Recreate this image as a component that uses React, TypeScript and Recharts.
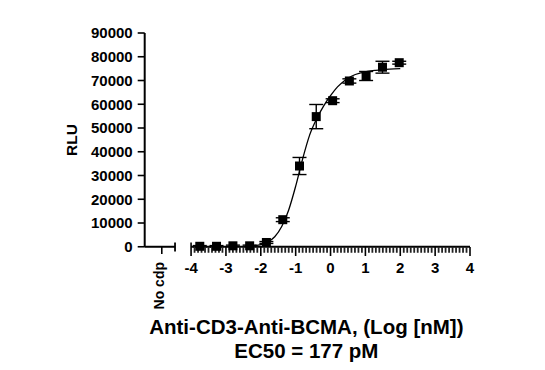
import React from 'react';
import { ComposedChart, XAxis, YAxis, Scatter, Line, ErrorBar, ReferenceLine, Label } from 'recharts';

// Measured points: log concentration (nM), mean RLU, error
const logConc = [-3.75, -3.27, -2.8, -2.32, -1.84, -1.37, -0.89, -0.41, 0.06, 0.54, 1.02, 1.49, 1.97];
const rlu = [200, 200, 400, 400, 1800, 11400, 34000, 54800, 61500, 69800, 71900, 75600, 77500];
const rluErr = [300, 300, 300, 300, 400, 800, 3600, 5100, 800, 900, 1900, 2500, 600];

// Fitted curve
const fitX = [-2.4, -2.2, -2.0, -1.8, -1.6, -1.4, -1.2, -1.0, -0.8, -0.6, -0.4, -0.2, 0.0, 0.2, 0.4, 0.6, 0.9, 1.3, 1.7, 2.0];
const fitY = [150, 400, 900, 2000, 4200, 8500, 15500, 25500, 37000, 47000, 53800, 59200, 63600, 67300, 69900, 71800, 73300, 74300, 74800, 75000];

const yTicks = [0, 10000, 20000, 30000, 40000, 50000, 60000, 70000, 80000, 90000];
const xMajorTicks = [-4, -3, -2, -1, 0, 1, 2, 3, 4];
const noCdpLabel = 'No cdp';
const NO_CDP_POS = -4.84;
const BREAK_END = -4.46;
const X_MIN = -5.33;
const X_MAX = 4;

const points = logConc.map((x, i) => ({ x, y: rlu[i], err: rluErr[i] }));
const curve = fitX.map((x, i) => ({ x, y: fitY[i] }));

// minor tick positions (every 0.1 log unit) on the main axis segment
const minorTicks: number[] = [];
for (let k = -40; k <= 40; k++) {
  if (k % 10 !== 0) minorTicks.push(k / 10);
}
const minorTickMarks = minorTicks.map((x) => ({ x, y: 0 }));
const allXTicks = [NO_CDP_POS, BREAK_END, ...xMajorTicks];

const FONT = '"Liberation Sans", Arial, sans-serif';

const XTick = (props: any) => {
  const { x, y, payload } = props;
  const v = payload.value as number;
  if (Math.abs(v - NO_CDP_POS) < 1e-6) {
    const tx = x + 2;
    const ty = y + 15;
    return (
      <g>
        <path d={`M${x},${y} L${x},${y + 7}`} stroke="#000" strokeWidth={1.6} />
        <text x={tx} y={ty} transform={`rotate(-90 ${tx} ${ty})`} textAnchor="end" fontFamily={FONT} fontWeight="bold" fontSize={14} fill="#000">
          {noCdpLabel}
        </text>
      </g>
    );
  }
  if (Math.abs(v - BREAK_END) < 1e-6) {
    return <path d={`M${x},${y - 4.5} L${x},${y + 4.5}`} stroke="#000" strokeWidth={1.8} />;
  }
  return (
    <g>
      <path d={`M${x},${v === -4 ? y - 4.5 : y} L${x},${y + 9}`} stroke="#000" strokeWidth={1.6} />
      <text x={x} y={y + 26} textAnchor="middle" fontFamily={FONT} fontWeight="bold" fontSize={15} fill="#000">
        {String(Math.round(v))}
      </text>
    </g>
  );
};

const square = (p: any) => <rect x={p.cx - 4.5} y={p.cy - 4.5} width={9} height={9} fill="#000" />;
const minorMark = (p: any) => (
  <path d={`M${p.cx},${p.cy} L${p.cx},${p.cy + 6}`} stroke="#222" strokeWidth={1.8} fill="none" />
);

export default function App() {
  return (
    <div>
      <ComposedChart width={529} height={354} margin={{ top: 25, right: 67, left: 20, bottom: 5 }}>
        <XAxis
          type="number"
          dataKey="x"
          domain={[X_MIN, X_MAX]}
          ticks={allXTicks}
          interval={0}
          tick={<XTick />}
          tickLine={false}
          axisLine={false}
          tickSize={0}
          tickMargin={0}
          height={110}
        >
          <Label
            content={(lp: any) => {
              const vb = lp.viewBox;
              const cx = vb.x + vb.width / 2 - 1;
              return (
                <g>
                  <text x={cx} y={vb.y + 87} textAnchor="middle" fontFamily={FONT} fontWeight="bold" fontSize={20.5} fill="#000">
                    Anti-CD3-Anti-BCMA, (Log [nM])
                  </text>
                  <text x={cx} y={vb.y + 111} textAnchor="middle" fontFamily={FONT} fontWeight="bold" fontSize={20.5} fill="#000">
                    EC50 = 177 pM
                  </text>
                </g>
              );
            }}
          />
        </XAxis>
        <YAxis
          type="number"
          domain={[0, 90000]}
          ticks={yTicks}
          interval={0}
          width={116.7}
          tickSize={7}
          tickMargin={5}
          axisLine={{ stroke: '#000', strokeWidth: 2 }}
          tickLine={{ stroke: '#000', strokeWidth: 1.6 }}
          tick={{ fontFamily: FONT, fontWeight: 'bold', fontSize: 15, fill: '#000' }}
        >
          <Label
            content={(lp: any) => {
              const vb = lp.viewBox;
              const tx = 68.7;
              const ty = vb.y + vb.height / 2;
              return (
                <text x={tx} y={ty} transform={`rotate(-90 ${tx} ${ty})`} textAnchor="middle" fontFamily={FONT} fontWeight="bold" fontSize={15.5} fill="#000">
                  RLU
                </text>
              );
            }}
          />
        </YAxis>
        <ReferenceLine segment={[{ x: X_MIN, y: 0 }, { x: BREAK_END, y: 0 }]} stroke="#000" strokeWidth={2} ifOverflow="visible" />
        <ReferenceLine segment={[{ x: -4, y: 0 }, { x: X_MAX, y: 0 }]} stroke="#000" strokeWidth={2} ifOverflow="visible" />
        <Scatter name="minor" data={minorTickMarks} dataKey="y" shape={minorMark} isAnimationActive={false} />
        <Line data={curve} dataKey="y" type="monotone" dot={false} stroke="#000" strokeWidth={1.3} isAnimationActive={false} />
        <Scatter name="points" data={points} dataKey="y" shape={square} isAnimationActive={false}>
          <ErrorBar dataKey="err" direction="y" width={7} stroke="#000" strokeWidth={1.4} />
        </Scatter>
      </ComposedChart>
    </div>
  );
}
